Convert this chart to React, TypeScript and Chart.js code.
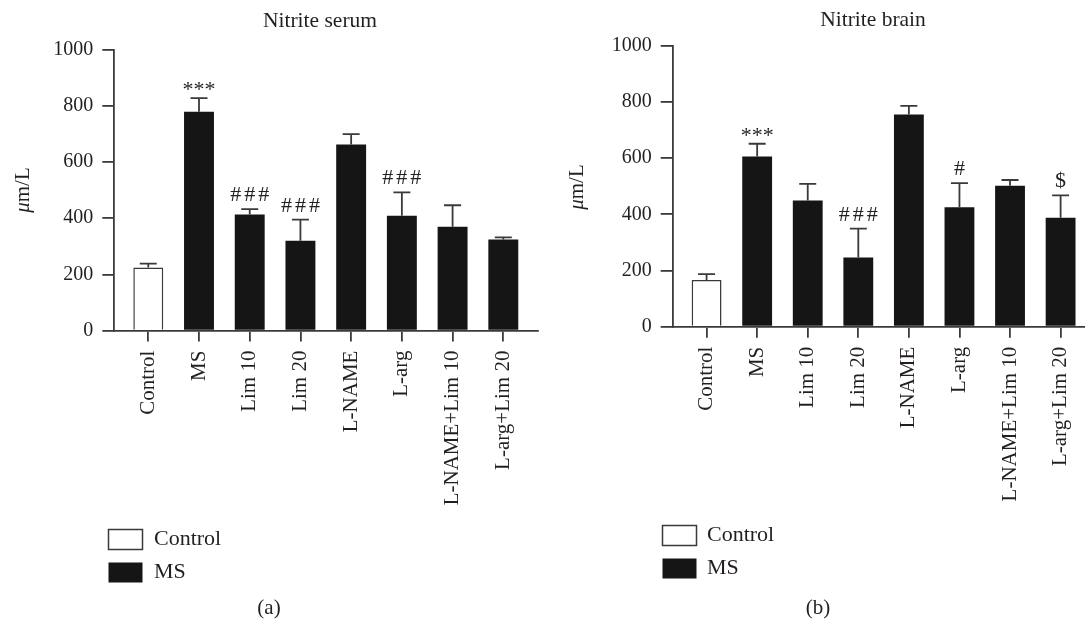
import { useEffect, useRef } from "react";
import { Chart, registerables } from "chart.js";

Chart.register(...registerables);

// ---------- data ----------
const categories = ["Control", "MS", "Lim 10", "Lim 20", "L-NAME", "L-arg", "L-NAME+Lim 10", "L-arg+Lim 20"];
const serumMean = [225, 779, 413, 320, 662, 409, 370, 324];
const serumUpper = [238, 827, 432, 395, 699, 492, 446, 332];
const serumMarks = ["", "***", "###", "###", "", "###", "", ""];
const brainMean = [166, 606, 449, 246, 755, 425, 502, 388];
const brainUpper = [187, 651, 508, 349, 786, 511, 522, 467];
const brainMarks = ["", "***", "", "###", "", "#", "", "$"];
const yTicks = [0, 200, 400, 600, 800, 1000];
const legendLabels = ["Control", "MS"];

const FONT = '"Liberation Serif", "Times New Roman", serif';
const TEXT = "#231f20";
const AXIS = "#3a3a3a";
const BAR = "#151515";
const H = 620;

type PanelCfg = {
  title: string;
  yLabel: [string, string];
  caption: string;
  means: number[];
  uppers: number[];
  marks: string[];
  canvasLeft: number;
  canvasWidth: number;
  area: { left: number; right: number; top: number; bottom: number };
  titlePos: [number, number];
  yLabelPos: [number, number];
  legendBox: { x: number; ys: number[]; w: number; h: number; textX: number };
  captionPos: [number, number];
};

const panels: PanelCfg[] = [
  {
    title: "Nitrite serum",
    yLabel: ["\u03bc", "m/L"],
    caption: "(a)",
    means: serumMean,
    uppers: serumUpper,
    marks: serumMarks,
    canvasLeft: 0,
    canvasWidth: 545,
    area: { left: 114.3, right: 538.3, top: 49.6, bottom: 330.6 },
    titlePos: [320, 21],
    yLabelPos: [23, 190],
    legendBox: { x: 108.5, ys: [529.5, 562.5], w: 34, h: 20, textX: 154 },
    captionPos: [269, 608],
  },
  {
    title: "Nitrite brain",
    yLabel: ["\u03bc", "m/L"],
    caption: "(b)",
    means: brainMean,
    uppers: brainUpper,
    marks: brainMarks,
    canvasLeft: 545,
    canvasWidth: 560,
    area: { left: 127.7, right: 550.5, top: 45.7, bottom: 326.7 },
    titlePos: [328, 20],
    yLabelPos: [32, 187],
    legendBox: { x: 117.5, ys: [525.5, 558.5], w: 34, h: 20, textX: 162 },
    captionPos: [273, 608],
  },
];

function overlayPlugin(p: PanelCfg) {
  return {
    id: "overlay",
    afterDatasetsDraw(chart: any) {
      const ctx = chart.ctx as CanvasRenderingContext2D;
      const xs = chart.scales.x;
      const ys = chart.scales.y;
      ctx.save();
      ctx.strokeStyle = AXIS;
      ctx.lineWidth = 1.8;
      p.means.forEach((m, i) => {
        const x = xs.getPixelForValue(i);
        const yb = ys.getPixelForValue(m);
        const yt = ys.getPixelForValue(p.uppers[i]);
        ctx.beginPath();
        ctx.moveTo(x, yb);
        ctx.lineTo(x, yt);
        ctx.moveTo(x - 8.5, yt);
        ctx.lineTo(x + 8.5, yt);
        ctx.stroke();
        const mk = p.marks[i];
        if (mk) {
          ctx.fillStyle = TEXT;
          ctx.font = `22px ${FONT}`;
          ctx.textAlign = "center";
          ctx.textBaseline = "alphabetic";
          const hash = mk.includes("#");
          (ctx as any).letterSpacing = hash ? "3px" : "0px";
          const star = mk.includes("*");
          ctx.fillText(mk, x + (hash ? 1.5 : 0), yt - (star ? 2 : 8));
          (ctx as any).letterSpacing = "0px";
        }
      });
      ctx.restore();
    },
    afterDraw(chart: any) {
      const ctx = chart.ctx as CanvasRenderingContext2D;
      ctx.save();
      ctx.fillStyle = TEXT;
      // title
      ctx.font = `21.5px ${FONT}`;
      ctx.textAlign = "center";
      ctx.textBaseline = "middle";
      ctx.fillText(p.title, p.titlePos[0], p.titlePos[1]);
      // y axis title (italic mu)
      ctx.save();
      ctx.translate(p.yLabelPos[0], p.yLabelPos[1]);
      ctx.rotate(-Math.PI / 2);
      ctx.textAlign = "left";
      ctx.textBaseline = "middle";
      ctx.font = `italic 21px ${FONT}`;
      const w1 = ctx.measureText(p.yLabel[0]).width;
      ctx.font = `21px ${FONT}`;
      const w2 = ctx.measureText(p.yLabel[1]).width;
      const start = -(w1 + w2) / 2;
      ctx.font = `italic 21px ${FONT}`;
      ctx.fillText(p.yLabel[0], start, 0);
      ctx.font = `21px ${FONT}`;
      ctx.fillText(p.yLabel[1], start + w1, 0);
      ctx.restore();
      // legend
      const lb = p.legendBox;
      legendLabels.forEach((lab, i) => {
        const y = lb.ys[i];
        if (i === 0) {
          ctx.fillStyle = "#ffffff";
          ctx.fillRect(lb.x, y, lb.w, lb.h);
          ctx.strokeStyle = AXIS;
          ctx.lineWidth = 1.5;
          ctx.strokeRect(lb.x, y, lb.w, lb.h);
        } else {
          ctx.fillStyle = BAR;
          ctx.fillRect(lb.x, y, lb.w, lb.h);
        }
        ctx.fillStyle = TEXT;
        ctx.font = `22px ${FONT}`;
        ctx.textAlign = "left";
        ctx.textBaseline = "middle";
        ctx.fillText(lab, lb.textX, y + lb.h / 2);
      });
      // caption
      ctx.textAlign = "center";
      ctx.textBaseline = "middle";
      ctx.font = `21px ${FONT}`;
      ctx.fillText(p.caption, p.captionPos[0], p.captionPos[1]);
      ctx.restore();
    },
  };
}

function makeConfig(p: PanelCfg): any {
  const a = p.area;
  return {
    type: "bar",
    data: {
      datasets: [
        {
          label: legendLabels[0],
          data: [{ x: 0, y: p.means[0] }],
          backgroundColor: "#ffffff",
          borderColor: AXIS,
          borderWidth: 1.5,
          grouped: false,
          barPercentage: 0.59,
          categoryPercentage: 1,
        },
        {
          label: legendLabels[1],
          data: p.means.slice(1).map((v, i) => ({ x: i + 1, y: v })),
          backgroundColor: BAR,
          borderWidth: 0,
          grouped: false,
          barPercentage: 0.59,
          categoryPercentage: 1,
        },
      ],
    },
    options: {
      animation: false,
      responsive: false,
      devicePixelRatio: 1,
      layout: { padding: { left: 0, top: a.top, right: p.canvasWidth - a.right, bottom: 0 } },
      plugins: { legend: { display: false }, tooltip: { enabled: false }, title: { display: false } },
      scales: {
        x: {
          type: "linear",
          min: -0.67,
          max: 7.69,
          offset: false,
          afterBuildTicks: (s: any) => {
            s.ticks = categories.map((_, i) => ({ value: i }));
          },
          afterFit: (s: any) => {
            s.height = H - a.bottom;
          },
          ticks: {
            callback: (v: any) => categories[v] ?? "",
            autoSkip: false,
            maxRotation: 90,
            minRotation: 90,
            font: { family: FONT, size: 21 },
            color: TEXT,
            padding: 9,
          },
          grid: { display: true, offset: false, drawOnChartArea: false, drawTicks: true, tickLength: 11, color: AXIS, lineWidth: 1.8 },
          border: { display: true, color: AXIS, width: 1.8 },
        },
        y: {
          min: 0,
          max: 1000,
          afterBuildTicks: (s: any) => {
            s.ticks = yTicks.map((v) => ({ value: v }));
          },
          afterFit: (s: any) => {
            s.width = a.left;
          },
          ticks: {
            callback: (v: any) => String(v),
            font: { family: FONT, size: 20 },
            color: TEXT,
            padding: 9,
          },
          grid: { display: true, drawOnChartArea: false, drawTicks: true, tickLength: 12, color: AXIS, lineWidth: 1.8 },
          border: { display: true, color: AXIS, width: 1.8 },
        },
      },
    },
    plugins: [overlayPlugin(p)],
  };
}

function Panel({ cfg }: { cfg: PanelCfg }) {
  const ref = useRef<HTMLCanvasElement>(null);
  useEffect(() => {
    const chart = new Chart(ref.current as HTMLCanvasElement, makeConfig(cfg));
    return () => chart.destroy();
  }, [cfg]);
  return (
    <canvas
      ref={ref}
      width={cfg.canvasWidth}
      height={H}
      style={{ position: "absolute", left: cfg.canvasLeft, top: 0, width: cfg.canvasWidth, height: H, display: "block" }}
    />
  );
}

export default function App() {
  return (
    <div style={{ position: "absolute", left: 0, top: 0, width: 1085, height: H, overflow: "hidden", background: "#ffffff" }}>
      {panels.map((p) => (
        <Panel key={p.caption} cfg={p} />
      ))}
    </div>
  );
}
